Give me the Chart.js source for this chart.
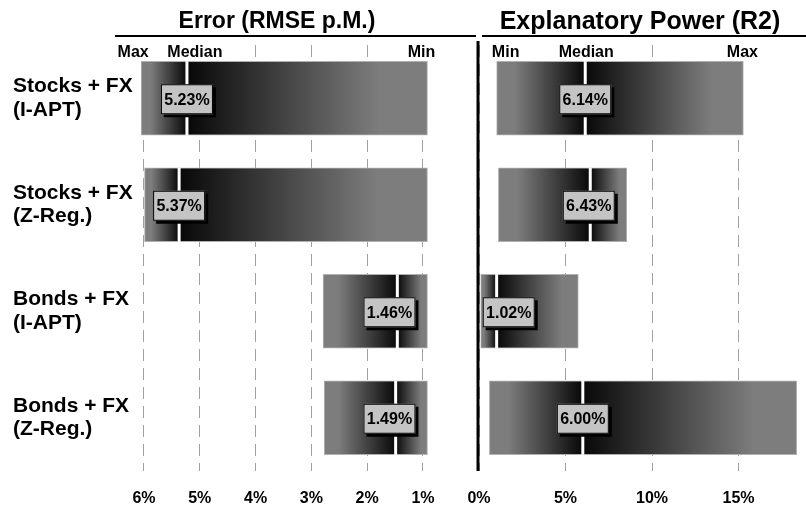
<!DOCTYPE html>
<html>
<head>
<meta charset="utf-8">
<script src="https://cdn.jsdelivr.net/npm/chart.js@4.4.1/dist/chart.umd.min.js"></script>
<style>
  html, body { margin: 0; padding: 0; background: #fff; }
  #wrap { position: relative; width: 806px; height: 506px; }
  #wrap canvas { position: absolute; left: 0; top: 0; }
</style>
</head>
<body>
<div id="wrap">
  <canvas id="errorChart" width="806" height="506"></canvas>
  <canvas id="powerChart" width="806" height="506"></canvas>
</div>
<script>
// categories (two-line labels)
const categories = [
    ['Stocks + FX', '(I-APT)'],
    ['Stocks + FX', '(Z-Reg.)'],
    ['Bonds + FX', '(I-APT)'],
    ['Bonds + FX', '(Z-Reg.)']
];

// Error (RMSE p.M.), percent
const errorMin = [0.92, 0.92, 0.92, 0.92];
const errorMedian = [5.23, 5.37, 1.46, 1.49];
const errorMax = [6.05, 5.99, 2.79, 2.77];

// Explanatory Power (R2), percent
const powerMin = [1.02, 1.12, 0.10, 0.60];
const powerMedian = [6.14, 6.43, 1.02, 6.00];
const powerMax = [15.28, 8.54, 5.74, 18.36];

// tick labels
const errorTicks = [6, 5, 4, 3, 2, 1];
const powerTicks = [0, 5, 10, 15];

const FONT = "'Liberation Sans', Arial, Helvetica, sans-serif";
const GREY = '#7d7d7d';
Chart.defaults.font.family = FONT;
Chart.defaults.color = '#000';

// grey at both ends, black at the median
function barFill(mins, meds, maxs) {
    return (c) => {
        const chart = c.chart;
        const x = chart.scales.x;
        if (!chart.chartArea || !x || c.dataIndex === undefined) return GREY;
        const i = c.dataIndex;
        const p1 = x.getPixelForValue(mins[i]);
        const p2 = x.getPixelForValue(maxs[i]);
        const pm = x.getPixelForValue(meds[i]);
        const l = Math.min(p1, p2), r = Math.max(p1, p2);
        const t = (pm - l) / (r - l);
        const g = chart.ctx.createLinearGradient(l, 0, r, 0);
        g.addColorStop(0, GREY);
        g.addColorStop(t * 0.2, GREY);
        g.addColorStop(t, '#080808');
        g.addColorStop(t + (1 - t) * 0.8, GREY);
        g.addColorStop(1, GREY);
        return g;
    };
}

// white median line + value box
function medianPlugin(meds) {
    const BOX_W = 52, BOX_H = 30;
    return {
        id: 'medians',
        afterDatasetsDraw(chart) {
            const ctx = chart.ctx;
            const x = chart.scales.x;
            chart.getDatasetMeta(0).data.forEach((bar, i) => {
                const px = x.getPixelForValue(meds[i]);
                const top = bar.y - bar.height / 2;
                ctx.save();
                ctx.fillStyle = '#fff';
                ctx.fillRect(px - 1.5, top, 3, bar.height);

                const left = Math.min(bar.x, bar.base), right = Math.max(bar.x, bar.base);
                let bx = px - BOX_W / 2;
                bx = Math.min(bx, right - 12 - BOX_W);
                bx = Math.max(bx, left + 2);
                const by = bar.y - BOX_H / 2 + 1;
                ctx.fillStyle = '#000';
                ctx.fillRect(bx + 3, by + 3, BOX_W, BOX_H);
                ctx.fillStyle = '#c4c4c4';
                ctx.fillRect(bx, by, BOX_W, BOX_H);
                ctx.strokeStyle = '#000';
                ctx.lineWidth = 1;
                ctx.strokeRect(bx + 0.5, by + 0.5, BOX_W - 1, BOX_H - 1);
                ctx.fillStyle = '#000';
                ctx.font = 'bold 16px ' + FONT;
                ctx.textAlign = 'center';
                ctx.textBaseline = 'middle';
                ctx.fillText(meds[i].toFixed(2) + '%', bx + BOX_W / 2, by + BOX_H / 2 + 1);
                ctx.restore();
            });
        }
    };
}

// panel title, underline and the Max/Median/Min header row
function headerPlugin(title, titleSize, titleX, lineFrom, lineTo, marks, separator) {
    return {
        id: 'header',
        afterDraw(chart) {
            const ctx = chart.ctx;
            const x = chart.scales.x;
            const area = chart.chartArea;
            ctx.save();
            ctx.fillStyle = '#000';
            ctx.font = 'bold ' + titleSize + 'px ' + FONT;
            ctx.textAlign = 'center';
            ctx.textBaseline = 'middle';
            ctx.fillText(title, titleX, 22);
            ctx.fillRect(lineFrom, 35, lineTo - lineFrom, 2);

            ctx.font = 'bold 16px ' + FONT;
            marks.forEach(([text, value, shift]) => {
                const cx = x.getPixelForValue(value) + shift;
                const w = ctx.measureText(text).width;
                ctx.fillStyle = '#fff';
                ctx.fillRect(cx - w / 2 - 3, area.top, w + 6, 15);
                ctx.fillStyle = '#000';
                ctx.fillText(text, cx, area.top + 8);
            });

            if (separator) {
                ctx.fillRect(area.left - 2.5, 41, 3, area.bottom - 41);
            }
            ctx.restore();
        }
    };
}

function xAxis(ticks, max, reverse) {
    return {
        type: 'linear',
        min: 0,
        max: max,
        reverse: reverse,
        afterBuildTicks: (s) => { s.ticks = ticks.map(v => ({ value: v })); },
        afterFit: (s) => { s.height = 35; },
        grid: { color: '#a0a0a0', lineWidth: 1, drawTicks: false },
        border: { display: false, dash: [12, 7] },
        ticks: {
            padding: 18,
            maxRotation: 0,
            autoSkip: false,
            font: { size: 16, weight: 'bold' },
            callback: (v) => v + '%'
        }
    };
}

// left panel: Error
new Chart(document.getElementById('errorChart'), {
    type: 'bar',
    data: {
        labels: categories,
        datasets: [{
            data: errorMin.map((v, i) => [v, errorMax[i]]),
            backgroundColor: barFill(errorMin, errorMedian, errorMax),
            borderColor: '#b0b0b0',
            borderWidth: 1,
            borderSkipped: false,
            barThickness: 74
        }]
    },
    options: {
        indexAxis: 'y',
        responsive: false,
        animation: false,
        layout: { padding: { left: 13, right: 806 - 478.8, top: 45, bottom: 0 } },
        plugins: { legend: { display: false }, tooltip: { enabled: false } },
        scales: {
            x: xAxis(errorTicks, 6.2, true),
            y: {
                afterFit: (s) => { s.width = 132.8 - 13; },
                grid: { display: false },
                border: { display: false },
                ticks: { crossAlign: 'far', padding: 0, font: { size: 21, weight: 'bold', lineHeight: 1.1 } }
            }
        }
    },
    plugins: [
        medianPlugin(errorMedian),
        headerPlugin('Error (RMSE p.M.)', 23, 277, 115, 476,
            [['Max', errorMax[0], -8], ['Median', errorMedian[0], 8], ['Min', errorMin[0], -6]], false)
    ]
});

// right panel: Explanatory Power
new Chart(document.getElementById('powerChart'), {
    type: 'bar',
    data: {
        labels: categories,
        datasets: [{
            data: powerMin.map((v, i) => [v, powerMax[i]]),
            backgroundColor: barFill(powerMin, powerMedian, powerMax),
            borderColor: '#b0b0b0',
            borderWidth: 1,
            borderSkipped: false,
            barThickness: 74
        }]
    },
    options: {
        indexAxis: 'y',
        responsive: false,
        animation: false,
        layout: { padding: { left: 479, right: 0, top: 45, bottom: 0 } },
        plugins: { legend: { display: false }, tooltip: { enabled: false } },
        scales: {
            x: xAxis(powerTicks, 18.9, false),
            y: { display: false }
        }
    },
    plugins: [
        medianPlugin(powerMedian),
        headerPlugin('Explanatory Power (R2)', 25, 640, 482, 806,
            [['Min', powerMin[0], 9], ['Median', powerMedian[0], 1], ['Max', powerMax[0], -1]], true)
    ]
});
</script>
</body>
</html>
